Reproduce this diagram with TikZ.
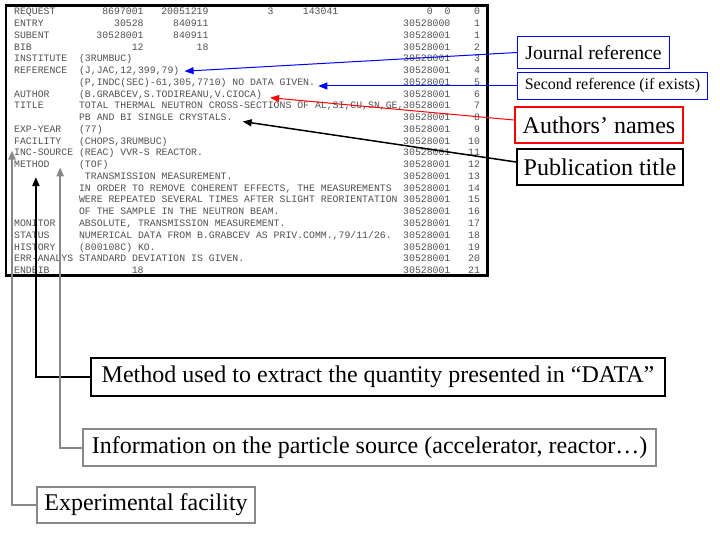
\documentclass[tikz,border=0pt]{standalone}
\usepackage{fontspec}
\setmainfont{Liberation Serif}
\newfontfamily\lstfont{Liberation Mono}
\usetikzlibrary{arrows.meta}

\definecolor{lstgray}{HTML}{505050}
\definecolor{srcgray}{HTML}{888888}

% listing grid: x of a column, baseline y of a row
\newcommand{\colx}[1]{14+5.9*#1}
\newcommand{\rowy}[1]{15+11.75*#1}

\begin{document}
\frenchspacing
\begin{tikzpicture}[
    x=1pt, y=-1pt,
    lst/.style={inner sep=0pt, text=lstgray, font=\lstfont\fontsize{9.83}{10}\selectfont},
    callout/.style={draw, rectangle, inner sep=0pt, align=center, line width=2pt, font=\fontsize{24}{28}\selectfont},
    arrow/.style={-{Triangle[length=9pt,width=7pt]}}
]
\useasboundingbox (0,0) rectangle (720,540);

% Listing frame
\draw[line width=2.7pt] (6,5.3) rectangle (487.3,275.8);

% Header row
\node[lst, anchor=base west] (kw0) at ({\colx{0}},{\rowy{0}}) {REQUEST};
\node[lst, anchor=base east] (fa0) at ({\colx{22}},{\rowy{0}}) {8697001};
\node[lst, anchor=base east] (fb0) at ({\colx{33}},{\rowy{0}}) {20051219};
\node[lst, anchor=base east] (fc0) at ({\colx{44}},{\rowy{0}}) {3};
\node[lst, anchor=base east] (fd0) at ({\colx{55}},{\rowy{0}}) {143041};
\node[lst, anchor=base east] (id0) at ({\colx{74}},{\rowy{0}}) {0~~0};
\node[lst, anchor=base east] (sq0) at ({\colx{79}},{\rowy{0}}) {0};

% Numeric rows
\foreach \kw/\fa/\fb/\idn/\sq [count=\r from 1] in {ENTRY/30528/840911/30528000/1, SUBENT/30528001/840911/30528001/1, BIB/12/18/30528001/2} {
  \node[lst, anchor=base west] (kw\r) at ({\colx{0}},{\rowy{\r}}) {\kw};
  \node[lst, anchor=base east] (fa\r) at ({\colx{22}},{\rowy{\r}}) {\fa};
  \node[lst, anchor=base east] (fb\r) at ({\colx{33}},{\rowy{\r}}) {\fb};
  \node[lst, anchor=base east] (id\r) at ({\colx{74}},{\rowy{\r}}) {\idn};
  \node[lst, anchor=base east] (sq\r) at ({\colx{79}},{\rowy{\r}}) {\sq};
}

% Keyword / free text rows
\foreach \kw/\txt [count=\r from 4] in {
    INSTITUTE/{(3RUMBUC)},
    REFERENCE/{(J,JAC,12,399,79)},
    {}/{(P,INDC(SEC)-61,305,7710) NO DATA GIVEN.},
    AUTHOR/{(B.GRABCEV,S.TODIREANU,V.CIOCA)},
    TITLE/{TOTAL THERMAL NEUTRON CROSS-SECTIONS OF AL,SI,CU,SN,GE,},
    {}/{PB AND BI SINGLE CRYSTALS.},
    EXP-YEAR/{(77)},
    FACILITY/{(CHOPS,3RUMBUC)},
    INC-SOURCE/{(REAC) VVR-S REACTOR.},
    METHOD/{(TOF)},
    {}/{~TRANSMISSION MEASUREMENT.},
    {}/{IN ORDER TO REMOVE COHERENT EFFECTS, THE MEASUREMENTS},
    {}/{WERE REPEATED SEVERAL TIMES AFTER SLIGHT REORIENTATION},
    {}/{OF THE SAMPLE IN THE NEUTRON BEAM.},
    MONITOR/{ABSOLUTE, TRANSMISSION MEASUREMENT.},
    STATUS/{NUMERICAL DATA FROM B.GRABCEV AS PRIV.COMM.,79/11/26.},
    HISTORY/{(800108C) KO.},
    ERR-ANALYS/{STANDARD DEVIATION IS GIVEN.}} {
  \pgfmathtruncatemacro{\sq}{\r-1}
  \node[lst, anchor=base west] (kw\r) at ({\colx{0}},{\rowy{\r}}) {\kw};
  \node[lst, anchor=base west] (tx\r) at ({\colx{11}},{\rowy{\r}}) {\txt};
  \node[lst, anchor=base east] (id\r) at ({\colx{74}},{\rowy{\r}}) {30528001};
  \node[lst, anchor=base east] (sq\r) at ({\colx{79}},{\rowy{\r}}) {\sq};
}

% Closing row
\node[lst, anchor=base west] (kw22) at ({\colx{0}},{\rowy{22}}) {ENDBIB};
\node[lst, anchor=base east] (fa22) at ({\colx{22}},{\rowy{22}}) {18};
\node[lst, anchor=base east] (id22) at ({\colx{74}},{\rowy{22}}) {30528001};
\node[lst, anchor=base east] (sq22) at ({\colx{79}},{\rowy{22}}) {21};

% Callouts
\node[callout, draw=blue, line width=1pt, minimum width=152pt, minimum height=32pt, font=\fontsize{19.7}{22}\selectfont] (jref) at (593.5,52.5) {Journal reference};
\node[callout, draw=blue, line width=1pt, minimum width=190pt, minimum height=27pt, font=\fontsize{16}{18}\selectfont] (sref) at (612.5,86) {Second reference (if exists)};
\node[callout, draw=red, minimum width=168pt, minimum height=36pt] (auth) at (599,125) {Authors’ names};
\node[callout, minimum width=166pt, minimum height=36pt] (ptitle) at (600,167) {Publication title};
\node[callout, minimum width=574pt, minimum height=38pt] (method) at (378,377) {Method used to extract the quantity presented in “DATA”};
\node[callout, draw=srcgray, minimum width=573pt, minimum height=37pt] (info) at (369.5,447.5) {Information on the particle source (accelerator, reactor…)};
\node[callout, draw=srcgray, minimum width=218pt, minimum height=36pt] (expfac) at (146,505) {Experimental facility};

% Arrows to the listing
\draw[blue, line width=1pt, arrow] (jref.west) -- ([xshift=5pt]tx5.east);
\draw[blue, line width=1pt, arrow] (sref.west) -- ([xshift=3pt]tx6.east |- sref.west);
\draw[red, line width=1pt, arrow] ([yshift=5pt]auth.west) -- ([xshift=8pt,yshift=-3pt]tx7.east);
\draw[line width=1.5pt, arrow] ([yshift=5pt]ptitle.west) -- ([xshift=10pt,yshift=-4pt]tx9.east);

\coordinate (methodTip) at ([xshift=4pt,yshift=-9pt]kw13.south);
\coordinate (sourceTip) at ([xshift=16.5pt,yshift=-11pt]kw12.south);
\coordinate (facilityTip) at ([xshift=-2pt,yshift=-6pt]kw11.south west);
\draw[line width=2pt, arrow] (method.west) -| (methodTip);
\draw[srcgray, line width=2pt, arrow] (info.west) -| (sourceTip);
\draw[srcgray, line width=2pt, arrow] (expfac.west) -| (facilityTip);

\end{tikzpicture}
\end{document}
